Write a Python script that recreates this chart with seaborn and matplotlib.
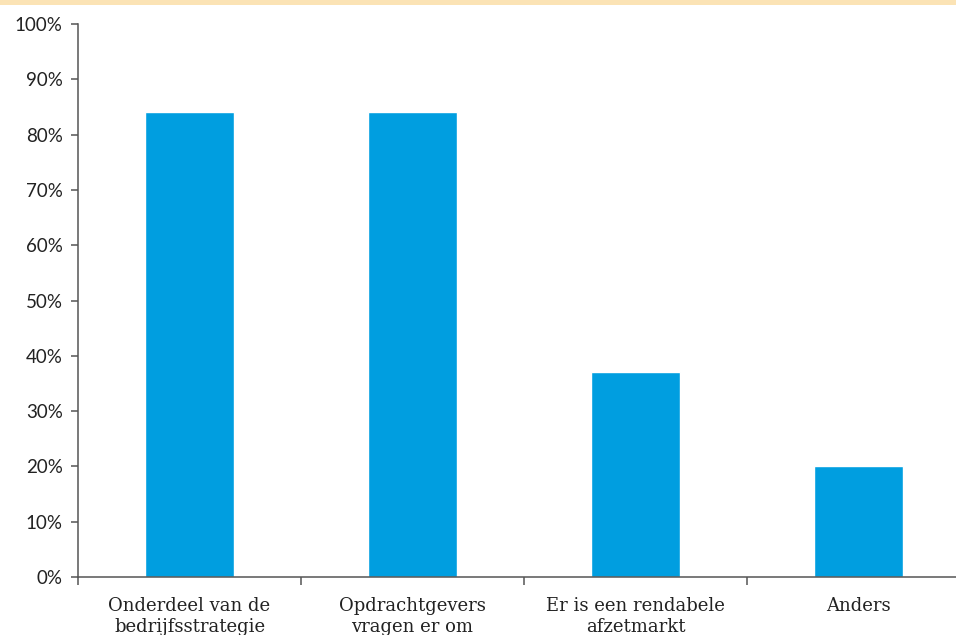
import pandas as pd
import seaborn as sns
import matplotlib.pyplot as plt
from matplotlib.ticker import PercentFormatter
from matplotlib.patches import Rectangle

categories = ['Onderdeel van de\nbedrijfsstrategie', 'Opdrachtgevers\nvragen er om',
              'Er is een rendabele\nafzetmarkt', 'Anders']
values = [84, 84, 37, 20]
yticks = list(range(0, 101, 10))

df = pd.DataFrame({'cat': categories, 'pct': values})

sns.set_style('white')
fig = plt.figure(figsize=(9.56, 6.35), dpi=100)
# axes runs off the right edge like in the original
ax = fig.add_axes([78 / 956, 1 - 577 / 635, 892 / 956, 553 / 635])

sns.barplot(data=df, x='cat', y='pct', color='#009EE0', saturation=1, width=0.4, ax=ax)

# thin beige strip along the top
fig.patches.append(Rectangle((0, 1 - 5 / 635), 1, 5 / 635, transform=fig.transFigure,
                             facecolor='#FBE3B5', edgecolor='none'))

ax.set(ylim=(0, 100), xlim=(-0.5, 3.5), xlabel='', ylabel='')
ax.set_yticks(yticks)
ax.yaxis.set_major_formatter(PercentFormatter(decimals=0))
for t in ax.get_yticklabels():
    t.set_fontfamily('Lato')
    t.set_fontsize(13.5)
    t.set_color('#222222')
ax.tick_params(axis='y', length=5, width=1.1, color='#555555', pad=6, left=True)

# x ticks sit at category boundaries, labels centred under the bars
ax.set_xticks([-0.5, 0.5, 1.5, 2.5, 3.5])
ax.set_xticklabels([])
ax.tick_params(axis='x', length=6, width=1.1, color='#555555', bottom=True)
for i, c in enumerate(categories):
    ax.text(i, -3.6, c, ha='center', va='top', fontsize=13, family='DejaVu Serif',
            color='#222222', linespacing=1.2, transform=ax.transData, clip_on=False)

for side in ['top', 'right']:
    ax.spines[side].set_visible(False)
for side in ['left', 'bottom']:
    ax.spines[side].set_color('#555555')
    ax.spines[side].set_linewidth(1.1)

plt.savefig('out.png', dpi=100)
